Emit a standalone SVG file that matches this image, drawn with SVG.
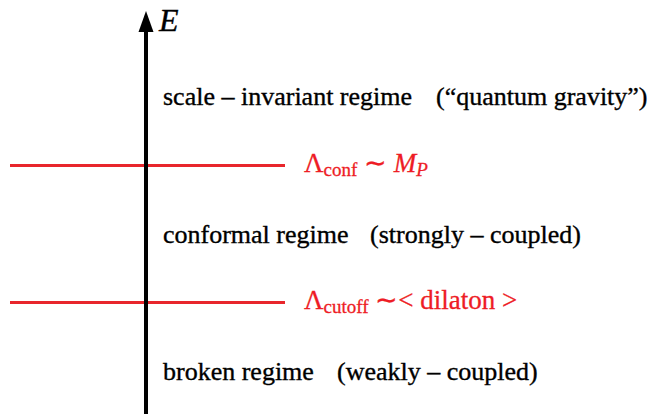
<svg xmlns="http://www.w3.org/2000/svg" width="649" height="414" viewBox="0 0 649 414">
<style>
.t{font-family:"Liberation Serif","Times New Roman",serif;font-size:26px;fill:#000;stroke:#000;stroke-width:0.35}
.r{font-family:"Liberation Serif","Times New Roman",serif;font-size:27px;fill:#ee1c25;stroke:#ee1c25;stroke-width:0.3}
.s{font-size:19px}
.i{font-style:italic}
.lvl{stroke:#e8262c;stroke-width:3;fill:none}
</style>
<rect width="649" height="414" fill="#fff"/>
<g id="connectors">
<line class="lvl" x1="10" y1="165.5" x2="285" y2="165.5"/>
<line class="lvl" x1="10" y1="302.5" x2="285" y2="302.5"/>
<line x1="146" y1="414" x2="146" y2="28" stroke="#000" stroke-width="4"/>
<polygon points="146,11 138.5,32 153.5,32" fill="#000"/>
</g>
<g id="axis-label"><text class="t i" x="159" y="31" style="font-size:32px">E</text></g>
<g id="scale-invariant">
<text class="t" x="163" y="105">scale – invariant regime</text>
<text class="t" x="436" y="105">(“quantum gravity”)</text>
</g>
<g id="lambda-conf">
<text class="r" x="304" y="172">Λ<tspan class="s" dy="4">conf</tspan><tspan dy="-4"> ∼ </tspan><tspan class="i">M</tspan><tspan class="s i" dy="4">P</tspan></text>
</g>
<g id="conformal">
<text class="t" x="163" y="243">conformal regime</text>
<text class="t" x="370" y="243">(strongly – coupled)</text>
</g>
<g id="lambda-cutoff">
<text class="r" x="304" y="309">Λ<tspan class="s" dy="4">cutoff</tspan><tspan dy="-4"> ∼&lt; dilaton &gt;</tspan></text>
</g>
<g id="broken">
<text class="t" x="163" y="380">broken regime</text>
<text class="t" x="337" y="380">(weakly – coupled)</text>
</g>
</svg>
